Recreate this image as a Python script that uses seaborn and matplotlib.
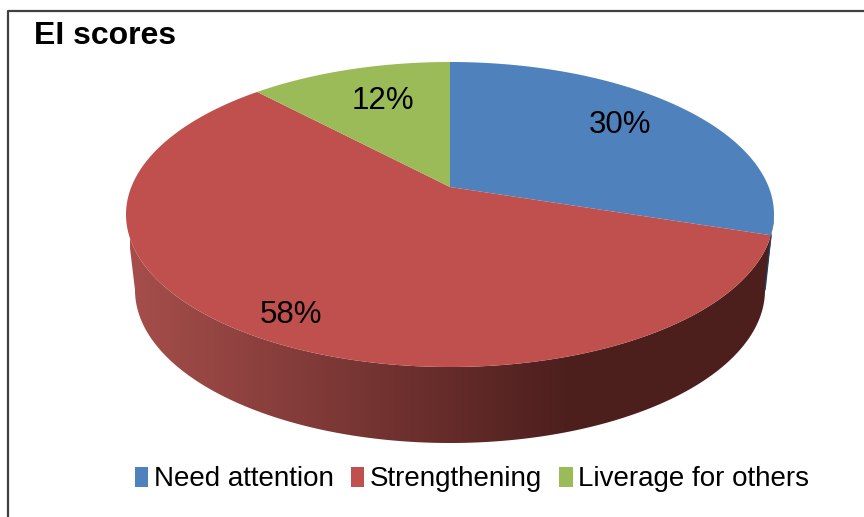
import numpy as np
import matplotlib
matplotlib.use('Agg')
import matplotlib.pyplot as plt
import seaborn as sns
from matplotlib.patches import Polygon, Rectangle
from matplotlib.path import Path
from matplotlib.transforms import Transform

title = 'EI scores'
categories = ['Need attention', 'Strengthening', 'Liverage for others']
scores = [30, 58, 12]
colours = ['#4f81bd', '#c0504d', '#9bbb59']


class Tilt(Transform):
    # tilts the flat unit pie into pixel coords, near edge bigger than far edge
    input_dims = output_dims = 2

    def __init__(self, cx, top, apex, bottom, halfwidth):
        super().__init__()
        self.cx, self.bottom = cx, bottom
        self.a = bottom - apex
        self.c = 2 * self.a / (bottom - top) - 1
        self.k = halfwidth * np.sqrt(1 - self.c ** 2)

    def transform_non_affine(self, xy):
        xy = np.asarray(xy, dtype=float)
        w = 1 + self.c * xy[:, 1]
        return np.column_stack([self.cx + self.k * xy[:, 0] / w,
                                self.bottom - self.a * (xy[:, 1] + 1) / w])

    def transform_path_non_affine(self, path):
        # sample the curves first, they dont survive the projection
        pts = [seg(np.linspace(0, 1, 40)) for seg, _ in path.iter_bezier()]
        return Path(self.transform_non_affine(np.vstack(pts)), closed=False)


def front_arc(disc):
    # near edge of a disc, from its rightmost to its leftmost point
    turn = np.linspace(0.1, 0.9, 800)
    rim = np.column_stack([np.sin(2 * np.pi * turn), np.cos(2 * np.pi * turn)])
    pts = disc.transform_non_affine(rim)
    return pts[pts[:, 0].argmax():pts[:, 0].argmin() + 1]


sns.set_theme(style='white')
plt.rcParams['font.family'] = ['Liberation Sans', 'DejaVu Sans']
palette = sns.color_palette(colours)

fig = plt.figure(figsize=(8.64, 5.17), dpi=100)
ax = fig.add_axes([0, 0, 1, 1])

wedges, _ = ax.pie(scores, colors=palette, startangle=90, counterclock=False)

top_disc = Tilt(450, 62, 187, 367, 324)
low_disc = Tilt(450, 137, 262, 443, 315)
for w in wedges:
    w.set_transform(top_disc + ax.transData)
    w.set_zorder(5)
    w.set_linewidth(0)

# side wall, gradient image clipped to the outline
top_arc = front_arc(top_disc)
low_arc = front_arc(low_disc)
shade = sns.blend_palette(['#a64e4b', '#4c1f1d'], as_cmap=True)
grad = ax.imshow(np.linspace(0, 1, 256).reshape(1, -1), cmap=shade, aspect='auto',
                 extent=(130, 570, 450, 100), zorder=2)
dark = ax.imshow([[1.0]], cmap=shade, vmin=0, vmax=1, aspect='auto',
                 extent=(570, 780, 450, 100), zorder=2)
outline = Polygon(np.vstack([top_arc, low_arc[::-1]]), closed=True, transform=ax.transData)
grad.set_clip_path(outline)
dark.set_clip_path(outline)

# blue slice only shows as a hairline on the right edge
a = 2 * np.pi * scores[0] / sum(scores)
blue_end = top_disc.transform_non_affine(np.array([[np.sin(a), np.cos(a)]]))[0]
ax.plot([blue_end[0], low_arc[0, 0]], [blue_end[1], low_arc[0, 1]], color='#24405f', lw=1, zorder=3)

ax.set_aspect('auto')
ax.set_xlim(0, 864)
ax.set_ylim(517, 0)

ax.text(291, 315, f'{scores[1]}%', fontsize=22.5, color='black', ha='center', va='center', zorder=6)
ax.text(620, 125, f'{scores[0]}%', fontsize=22.5, color='black', ha='center', va='center', zorder=6)
ax.text(383, 101, f'{scores[2]}%', fontsize=22.5, color='black', ha='center', va='center', zorder=6)

ax.text(34, 36, title, fontsize=23, fontweight='bold', color='black', ha='left', va='center')

# chart frame, open at right and bottom like the crop
ax.plot([8, 8, 864], [517, 11, 11], color='#404040', lw=1.6, zorder=7)

handles = [Rectangle((0, 0), 1, 1, fc=c, ec='none') for c in palette]
ax.legend(handles, categories, ncol=3, frameon=False, fontsize=20,
          loc='center', bbox_to_anchor=(472 / 864, 1 - 479.5 / 517),
          bbox_transform=fig.transFigure, handlelength=0.5, handleheight=0.75,
          handletextpad=0.2, columnspacing=0.6, borderpad=0, labelcolor='black')

fig.savefig('out.png', dpi=100, facecolor='white')
